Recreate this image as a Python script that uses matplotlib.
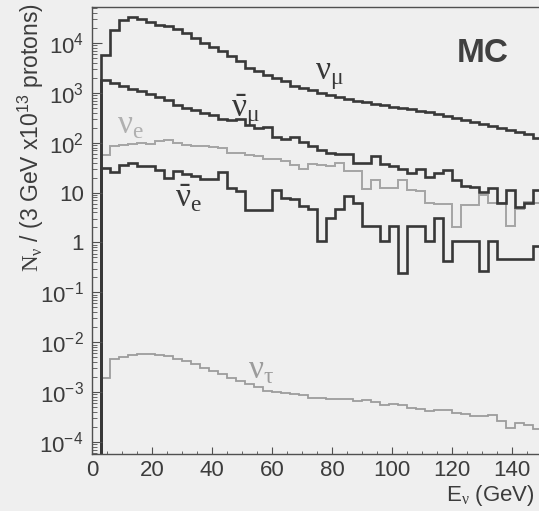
import numpy as np
import matplotlib
matplotlib.use("Agg")
import matplotlib.pyplot as plt
from matplotlib.ticker import FixedLocator, FixedFormatter, MultipleLocator, LogLocator, NullFormatter

plt.rcParams['font.family'] = ['Liberation Sans', 'DejaVu Sans']
plt.rcParams['mathtext.fontset'] = 'custom'
plt.rcParams['mathtext.rm'] = 'Liberation Sans'
plt.rcParams['mathtext.it'] = 'Liberation Sans:italic'
plt.rcParams['mathtext.bf'] = 'Liberation Sans:bold'
plt.rcParams['mathtext.sf'] = 'Liberation Serif'   # used for the greek letters

# 3 GeV bins, the 0-3 GeV bin is empty
edges = np.arange(0, 153, 3)

nu_mu = [0, 5600, 18200, 28200, 32400, 29500, 25700, 23400, 21400, 18600, 15500,
         12300, 9800, 8100, 6800, 5400, 4300, 3200, 2700, 2300, 1950,
         1700, 1380, 1230, 1120, 1000, 910, 830, 740, 690, 650,
         600, 560, 525, 500, 470, 435, 405, 370, 340, 310,
         280, 255, 235, 215, 195, 178, 165, 148, 126]

nu_mu_bar = [0, 1820, 1550, 1350, 1200, 1070, 955, 830, 725, 575, 500,
             447, 398, 355, 302, 282, 295, 229, 200, 209, 132,
             120, 132, 105, 87, 72, 63, 58, 58, 40, 40,
             55, 37, 34, 30, 25, 30, 21, 24.5, 28, 18,
             13.5, 13.2, 10.5, 12.6, 6.3, 11.5, 5.2, 6.3, 11.5]

nu_e = [0, 57.5, 87, 89, 95.5, 100, 93, 107, 115, 98, 91,
        87, 85, 83, 79, 63, 62, 56, 55, 48, 47,
        43, 35.5, 30, 37, 36, 34, 40, 27, 27, 12,
        18, 12.3, 12.3, 18, 11.2, 10.7, 6.3, 6.0, 5.9, 2.0,
        5.75, 5.75, 9.1, 6.3, 6.3, 2.14, 4.6, 6.6, 6.2]

nu_e_bar = [0, 31, 26.3, 36.3, 38.9, 34.7, 33.9, 28.8, 19.5, 26.9, 24,
            21.4, 18.6, 18.6, 26.3, 12.6, 10.7, 4.4, 4.4, 4.4, 11.5,
            7.9, 7.6, 5.5, 4.6, 1.07, 3.1, 4.6, 8.5, 6.2, 2.14,
            2.14, 1.07, 2.14, 0.25, 2.14, 2.14, 1.07, 3.1, 0.43, 1.07,
            1.07, 1.07, 0.27, 1.07, 0.46, 0.46, 0.46, 0.46, 0.85]

# in units of 1e-3
nu_tau = np.array([0, 1.9, 4.57, 5.13, 5.5, 5.75, 5.9, 5.6, 5.25, 4.57, 4.27,
                   3.63, 3.09, 2.69, 2.29, 1.95, 1.66, 1.45, 1.26, 1.05, 1.0,
                   0.98, 0.93, 0.89, 0.76, 0.76, 0.74, 0.74, 0.72, 0.65, 0.69,
                   0.63, 0.54, 0.575, 0.54, 0.48, 0.457, 0.427, 0.447, 0.447, 0.39,
                   0.363, 0.339, 0.331, 0.355, 0.263, 0.195, 0.24, 0.219, 0.186]) * 1e-3

ytick_vals = [1e-4, 1e-3, 1e-2, 1e-1, 1, 10, 1e2, 1e3, 1e4]
ytick_labels = [r'$10^{-4}$', r'$10^{-3}$', r'$10^{-2}$', r'$10^{-1}$', '1', '10',
                r'$10^{2}$', r'$10^{3}$', r'$10^{4}$']

dark = '#383838'
light = '#a4a4a4'
bg = '#efefef'

fig = plt.figure(figsize=(5.39, 5.11), dpi=100, facecolor=bg)
ax = fig.add_axes([92 / 539, 57 / 511, 447 / 539, 446.5 / 511], facecolor=bg)

ax.stairs(nu_e, edges, baseline=None, color=light, lw=1.4)
ax.stairs(nu_tau, edges, baseline=None, color='#9c9c9c', lw=1.3)
ax.stairs(nu_mu, edges, baseline=None, color=dark, lw=1.9)
ax.stairs(nu_mu_bar, edges, baseline=None, color=dark, lw=1.9)
ax.stairs(nu_e_bar, edges, baseline=None, color=dark, lw=1.9)

ax.set_yscale('log')
ax.set_xlim(0, 149)
ax.set_ylim(10 ** -4.24, 10 ** 4.71)

ax.yaxis.set_major_locator(FixedLocator(ytick_vals))
ax.yaxis.set_major_formatter(FixedFormatter(ytick_labels))
ax.yaxis.set_minor_locator(LogLocator(base=10, subs=np.arange(2, 10), numticks=20))
ax.yaxis.set_minor_formatter(NullFormatter())
ax.xaxis.set_major_locator(MultipleLocator(20))
ax.xaxis.set_minor_locator(MultipleLocator(5))

ax.tick_params(which='both', direction='in', colors='#505050', labelcolor='#3c3c3c', labelsize=16)
ax.tick_params(axis='y', which='major', length=7.5, pad=6)
ax.tick_params(axis='y', which='minor', length=3.5)
ax.tick_params(axis='x', which='major', length=5, pad=4)
ax.tick_params(axis='x', which='minor', length=2.5)

for side in ['left', 'bottom', 'top']:
    ax.spines[side].set_color('#505050')
    ax.spines[side].set_linewidth(1.0)
ax.spines['right'].set_visible(False)

ax.set_xlabel(r'E$_{\mathsf{ν}}$ (GeV)', loc='right', fontsize=16, color='#3c3c3c')
ax.xaxis.set_label_coords(0.99, -0.064)
ax.set_ylabel(r'$\mathsf{N}_{\mathsf{ν}}$ / (3 GeV x10$^{13}$ protons)', loc='top',
              fontsize=16.5, color='#3c3c3c')
ax.yaxis.set_label_coords(-0.103, 1.01)

# curve labels
ax.text(79.3, 10 ** 3.32, r'$\mathsf{ν}_{\mathsf{μ}}$', fontsize=24, color=dark, ha='center', va='center')
ax.text(51.3, 10 ** 2.64, r'$\bar{\mathsf{ν}}_{\mathsf{μ}}$', fontsize=24, color=dark, ha='center', va='center')
ax.text(12.7, 10 ** 2.34, r'$\mathsf{ν}_{\mathsf{e}}$', fontsize=24, color='#b0b0b0', ha='center', va='center')
ax.text(32.3, 10 ** 0.88, r'$\bar{\mathsf{ν}}_{\mathsf{e}}$', fontsize=24, color=dark, ha='center', va='center')
ax.text(56.3, 10 ** -2.56, r'$\mathsf{ν}_{\mathsf{τ}}$', fontsize=24, color='#9c9c9c', ha='center', va='center')
ax.text(130.3, 10 ** 3.78, 'MC', fontsize=24, fontweight='bold', color='#404040', ha='center', va='center')

fig.savefig('out.png', dpi=100, facecolor=bg)
